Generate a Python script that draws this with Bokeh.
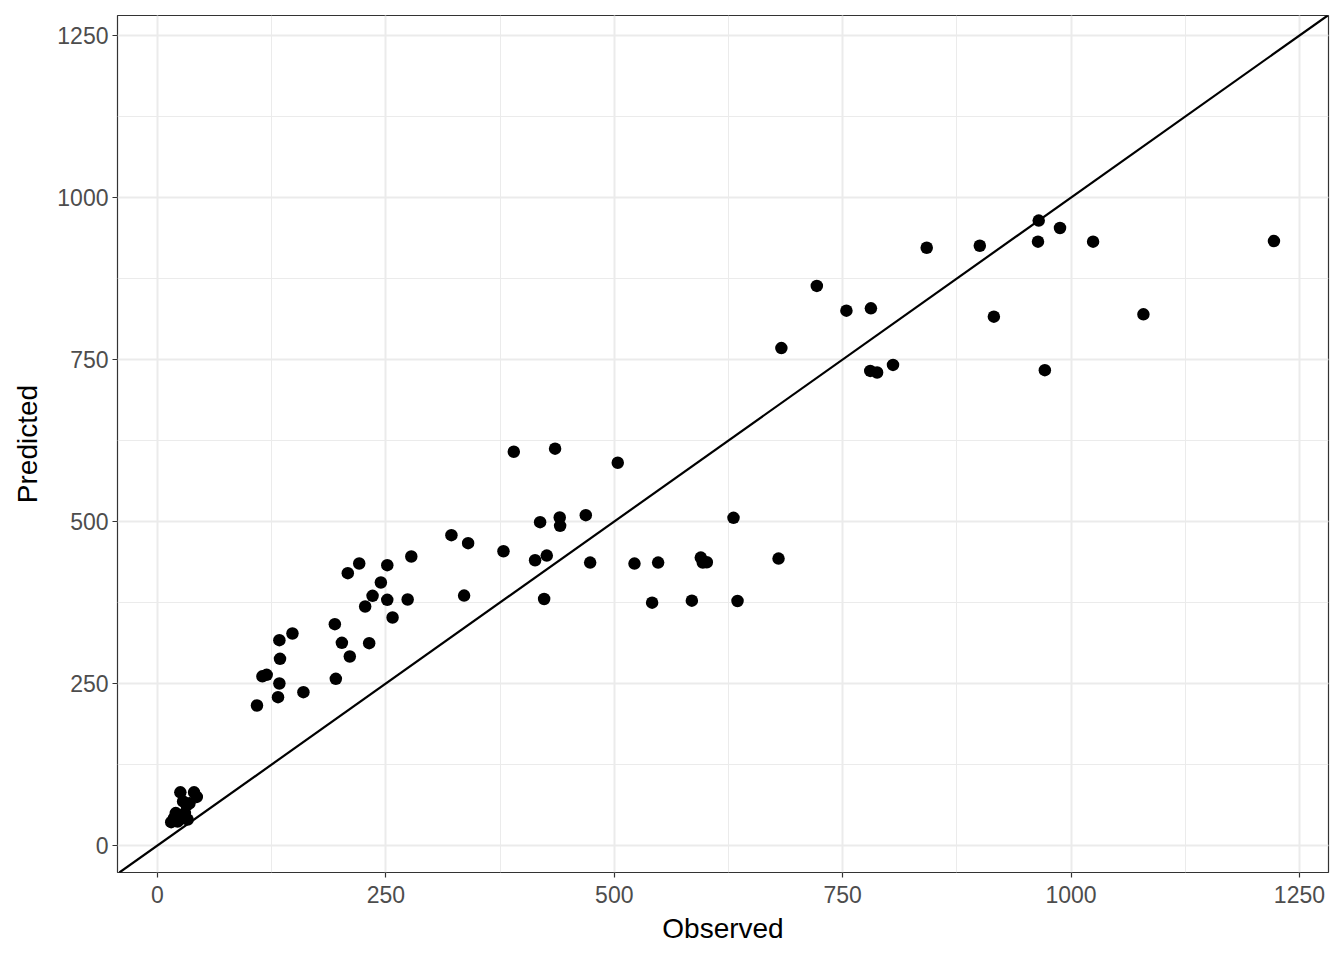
from bokeh.plotting import figure
from bokeh.models import Range1d, SingleIntervalTicker, Slope, ColumnDataSource
from bokeh.embed import file_html
from bokeh.resources import INLINE

# Observed / Predicted values
observed = [
    25, 40, 43, 35, 32, 28, 20, 18, 27, 33, 15, 22, 30, 24,
    277.8, 220.8, 251.5, 208.3, 244.5, 235.4, 251.5, 273.8, 227.3, 257.3,
    194.1, 147.7, 133.4, 201.8, 231.7, 134.1, 210.5, 114.8, 119.5, 195.2,
    133.4, 159.7, 131.9, 108.9,
    390.0, 435.2, 503.8, 321.7, 340.0, 378.7, 418.8, 440.3, 440.7, 468.8,
    413.3, 426.1, 473.6, 522.1, 548.0, 594.7, 596.9, 601.3, 630.5, 679.8,
    335.6, 423.2, 541.4, 584.9, 634.9,
    964.6, 987.9, 963.8, 1024.1, 1222.1, 842.0, 900.1, 721.7, 754.1, 780.9,
    915.5, 1079.2, 682.9, 780.2, 787.7, 805.1, 971.3,
]
predicted = [
    82, 82, 75, 65, 62, 68, 50, 42, 46, 40, 36, 37, 50, 40,
    446.0, 435.2, 432.6, 420.3, 405.9, 385.3, 379.1, 379.6, 368.8, 351.9,
    341.6, 327.2, 316.9, 312.8, 312.2, 288.1, 291.7, 261.1, 263.4, 257.2,
    250.0, 236.6, 228.9, 216.0,
    607.7, 612.4, 590.7, 478.9, 466.5, 454.1, 499.0, 506.2, 493.3, 509.8,
    440.2, 447.4, 436.6, 435.0, 436.6, 444.3, 436.6, 437.1, 505.7, 442.8,
    385.6, 380.4, 374.7, 377.8, 377.3,
    964.4, 953.0, 931.8, 931.8, 932.8, 922.5, 925.6, 863.6, 825.4, 829.0,
    816.1, 819.7, 767.6, 732.4, 729.9, 741.7, 733.5,
]

x_title = "Observed"
y_title = "Predicted"

src = ColumnDataSource(data=dict(x=observed, y=predicted))

p = figure(
    width=1338, height=952,
    x_range=Range1d(-43.8, 1281.8), y_range=Range1d(-41.7, 1280.9),
    output_backend="svg", toolbar_location=None,
    min_border_left=117, min_border_right=10, min_border_top=15, min_border_bottom=80,
)
p.background_fill_color = "white"
p.border_fill_color = "white"
p.outline_line_color = "#333333"
p.outline_line_width = 1.2

for ax, title in ((p.xaxis[0], x_title), (p.yaxis[0], y_title)):
    ax.ticker = SingleIntervalTicker(interval=250, num_minor_ticks=2)
    ax.axis_label = title
    ax.axis_label_text_font = "Liberation Sans"
    ax.axis_label_text_font_size = "28px"
    ax.axis_label_text_font_style = "normal"
    ax.axis_label_text_color = "black"
    ax.major_label_text_font = "Liberation Sans"
    ax.major_label_text_font_size = "23px"
    ax.major_label_text_color = "#4D4D4D"
    ax.major_tick_line_color = "#333333"
    ax.major_tick_line_width = 1.2
    ax.major_tick_out = 5
    ax.major_tick_in = 0
    ax.minor_tick_line_color = None
    ax.axis_line_color = None

p.xaxis.major_label_standoff = 8
p.xaxis.axis_label_standoff = 7
p.yaxis.major_label_standoff = 4
p.yaxis.axis_label_standoff = 11

for g in (p.xgrid[0], p.ygrid[0]):
    g.ticker = SingleIntervalTicker(interval=250, num_minor_ticks=2)
    g.grid_line_color = "#EBEBEB"
    g.grid_line_width = 2
    g.minor_grid_line_color = "#EBEBEB"
    g.minor_grid_line_width = 1

p.add_layout(Slope(gradient=1, y_intercept=0, line_color="black", line_width=2.2))
p.scatter("x", "y", source=src, size=12.5, fill_color="black", line_color="black", line_width=0)

open("out.html", "w").write(file_html(p, INLINE))
